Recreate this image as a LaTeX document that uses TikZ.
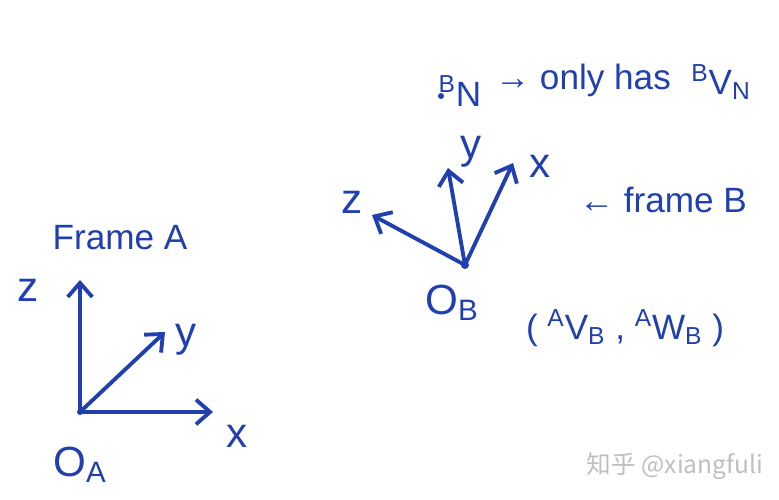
\documentclass[tikz,border=0pt]{standalone}
\usepackage{fontspec}
\setsansfont{Liberation Sans}
\newfontfamily\cjkfont{Noto Sans CJK SC}
\usetikzlibrary{arrows.meta}
\definecolor{ink}{RGB}{33,64,176}

\begin{document}
\begin{tikzpicture}[x=0.02cm,y=-0.02cm,
    >={Straight Barb[length=8pt,width=14pt]},line width=2.2pt,
    axis/.style={draw=ink,->,line cap=round,line join=round},
    lbl/.style={text=ink,inner sep=0pt,font=\sffamily\fontsize{24}{26}\selectfont},
    note/.style={text=ink,inner sep=0pt,font=\sffamily\fontsize{20}{22}\selectfont}]
    \useasboundingbox[fill=white] (0,0) rectangle (779,500);
    % frame A
    \coordinate (OA) at (80,412);
    \coordinate (zA) at (80,280);
    \coordinate (xA) at (213,412);
    \coordinate (yA) at (165,332);
    \draw[axis] (OA) -- (zA);
    \draw[axis] (OA) -- (xA);
    \draw[axis] (OA) -- (yA);
    \fill[ink] (OA) circle (3);
    \node[lbl] (zlA) at (28,290) {z};
    \node[lbl] (xlA) at (237,436) {x};
    \node[lbl] (ylA) at (186,340) {y};
    \node[lbl] (oA) at (80,465) {O\textsubscript{A}};
    \node[note] (tA) at (120,238) {Frame A};
    % frame B
    \coordinate (OB) at (465,265);
    \coordinate (zB) at (372,215);
    \coordinate (yB) at (448,168);
    \coordinate (xB) at (513,163);
    \draw[axis] (OB) -- (zB);
    \draw[axis] (OB) -- (yB);
    \draw[axis] (OB) -- (xB);
    \fill[ink] (OB) circle (4);
    \node[lbl] (zlB) at (352,202) {z};
    \node[lbl] (ylB) at (471,152) {y};
    \node[lbl] (xlB) at (540,166) {x};
    \node[lbl] (oB) at (452,303) {O\textsubscript{B}};
    \node[note] (vB) at (625,328) {( \textsuperscript{A}V\textsubscript{B} , \textsuperscript{A}W\textsubscript{B} )};
    \node[note] (fB) at (663,200) {← frame B};
    % body N
    \fill[ink] (441,96) circle (3);
    \node[note] (nB) at (460,91) {\textsuperscript{B}N};
    \node[note] (only) at (583,80) {→ only has};
    \node[note] (vN) at (721,82) {\textsuperscript{B}V\textsubscript{N}};
    \node[text=black!25,inner sep=0pt,font=\cjkfont\fontsize{14}{16}\selectfont] (wm) at (675,466) {知乎 @xiangfuli};
\end{tikzpicture}
\end{document}
